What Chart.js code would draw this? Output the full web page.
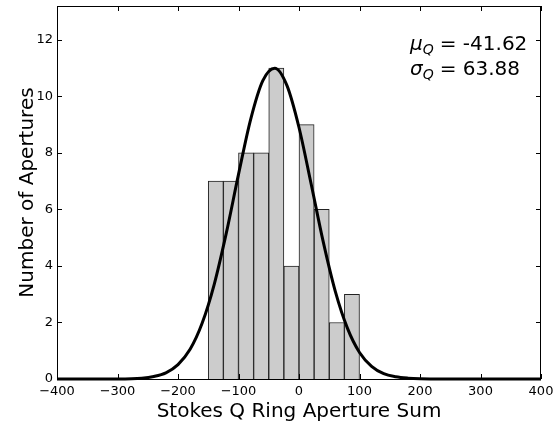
<!DOCTYPE html>
<html>
<head>
<meta charset="utf-8">
<script src="https://cdn.jsdelivr.net/npm/chart.js"></script>
<style>
    html, body { margin: 0; padding: 0; background: #fff; }
    #wrap { width: 560px; height: 429px; }
</style>
</head>
<body>
<div id="wrap"><canvas id="histChart"></canvas></div>
<script>
// histogram bins (width 25)
const binCenters = [-137.5, -112.5, -87.5, -62.5, -37.5, -12.5, 12.5, 37.5, 62.5, 87.5];
const counts = [7, 7, 8, 8, 11, 4, 9, 6, 2, 3];

// fitted curve
const curveX = [-400, -300, -260, -240, -220, -200, -180, -160, -140, -120, -100, -80, -60, -40,
    -20, 0, 20, 40, 60, 80, 100, 120, 140, 160, 180, 200, 240, 300, 400];
const curveY = [0, 0.003, 0.03, 0.09, 0.22, 0.51, 1.05, 1.98, 3.36, 5.18, 7.24, 9.18, 10.55, 11.0,
    10.39, 8.9, 6.91, 4.86, 3.1, 1.8, 0.94, 0.45, 0.19, 0.08, 0.03, 0.008, 0, 0, 0];

const xTicks = [-400, -300, -200, -100, 0, 100, 200, 300, 400];
const yTicks = [0, 2, 4, 6, 8, 10, 12];

const fitMean = '-41.62';
const fitSigma = '63.88';

const FONT = "'DejaVu Sans', sans-serif";

// inward tick marks on all four sides plus the box
const frame = {
    id: 'frame',
    afterDraw(chart) {
        const { ctx, chartArea: a, scales } = chart;
        ctx.save();
        ctx.strokeStyle = '#000';
        ctx.lineWidth = 1;
        ctx.strokeRect(a.left + 0.5, a.top + 0.5, a.right - a.left - 1, a.bottom - a.top);
        ctx.beginPath();
        xTicks.forEach(v => {
            const x = Math.round(scales.x.getPixelForValue(v)) + 0.5;
            ctx.moveTo(x, a.bottom); ctx.lineTo(x, a.bottom - 5);
            ctx.moveTo(x, a.top); ctx.lineTo(x, a.top + 5);
        });
        yTicks.forEach(v => {
            const y = Math.round(scales.y.getPixelForValue(v)) + 0.5;
            ctx.moveTo(a.left, y); ctx.lineTo(a.left + 5, y);
            ctx.moveTo(a.right, y); ctx.lineTo(a.right - 5, y);
        });
        ctx.stroke();

        // fit parameters
        ctx.fillStyle = '#000';
        ctx.textBaseline = 'alphabetic';
        const rows = [['\u03bc', fitMean, 50], ['\u03c3', fitSigma, 75]];
        rows.forEach(([sym, val, yb]) => {
            let x = 410;
            ctx.font = 'italic 20px ' + FONT;
            ctx.fillText(sym, x, yb);
            x += ctx.measureText(sym).width;
            ctx.font = 'italic 14px ' + FONT;
            ctx.fillText('Q', x, yb + 4);
            x += ctx.measureText('Q').width + 6;
            ctx.font = '20px ' + FONT;
            ctx.fillText('= ' + val, x, yb);
        });
        ctx.restore();
    }
};

new Chart(document.getElementById('histChart'), {
    type: 'bar',
    data: {
        datasets: [
            {
                type: 'line',
                data: curveX.map((x, i) => ({ x, y: curveY[i] })),
                borderColor: '#000',
                borderWidth: 3,
                pointRadius: 0,
                cubicInterpolationMode: 'monotone',
                clip: false,
                order: 1
            },
            {
                type: 'bar',
                data: binCenters.map((x, i) => ({ x, y: counts[i] })),
                backgroundColor: '#cccccc',
                borderColor: '#222',
                borderWidth: 1,
                barPercentage: 1,
                categoryPercentage: 1,
                order: 2
            }
        ]
    },
    options: {
        responsive: true,
        maintainAspectRatio: false,
        animation: false,
        layout: { padding: { top: 6, right: 19, left: 0, bottom: 0 } },
        plugins: { legend: { display: false }, tooltip: { enabled: false } },
        scales: {
            x: {
                type: 'linear',
                min: -400,
                max: 400,
                offset: false,
                grid: { display: false, drawTicks: false, tickLength: 0 },
                border: { display: false },
                afterBuildTicks: s => { s.ticks = xTicks.map(value => ({ value })); },
                afterFit: s => { s.height = 50; s.paddingLeft = 0; s.paddingRight = 0; },
                ticks: {
                    color: '#000',
                    padding: 5,
                    maxRotation: 0,
                    font: { size: 13, family: FONT },
                    callback: v => String(v).replace('-', '\u2212')
                },
                title: {
                    display: true,
                    text: 'Stokes Q Ring Aperture Sum',
                    color: '#000',
                    font: { size: 20, family: FONT },
                    padding: { top: 0, bottom: 5 }
                }
            },
            y: {
                min: 0,
                max: 13.2,
                grid: { display: false, drawTicks: false, tickLength: 0 },
                border: { display: false },
                afterBuildTicks: s => { s.ticks = yTicks.map(value => ({ value })); },
                afterFit: s => { s.width = 57; s.paddingTop = 0; s.paddingBottom = 0; },
                ticks: {
                    color: '#000',
                    padding: 4,
                    font: { size: 13, family: FONT }
                },
                title: {
                    display: true,
                    text: 'Number of Apertures',
                    color: '#000',
                    font: { size: 20, family: FONT },
                    padding: { top: 16, bottom: 0 }
                }
            }
        }
    },
    plugins: [frame]
});
</script>
</body>
</html>
